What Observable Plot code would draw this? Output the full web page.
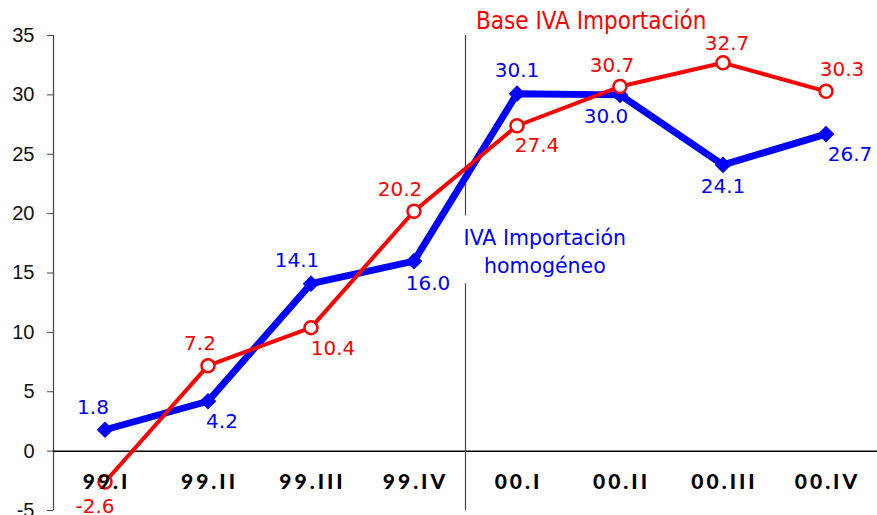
<!DOCTYPE html>
<html><head><meta charset="utf-8">
<script src="https://cdn.jsdelivr.net/npm/d3@7"></script>
<script src="https://cdn.jsdelivr.net/npm/@observablehq/plot@0.6"></script>
<style>body{margin:0;background:#fff;}</style>
</head><body><div id="chart"></div>
<script>
const categories = ["99.I","99.II","99.III","99.IV","00.I","00.II","00.III","00.IV"];
const ivaHomogeneo = [1.8, 4.2, 14.1, 16.0, 30.1, 30.0, 24.1, 26.7];
const baseIva = [-2.6, 7.2, 10.4, 20.2, 27.4, 30.7, 32.7, 30.3];
const yTicks = [-5, 0, 5, 10, 15, 20, 25, 30, 35];
const seriesNames = ["IVA Importación homogéneo", "Base IVA Importación"];

// label placement (pixel offsets from each point)
const blueLabelOffsets = [[-12,-22],[14,20],[-14,-23],[14,22],[0,-23],[-14,22],[0,22],[24,21]];
const redLabelOffsets = [[-10,25],[-8,-22],[22,21],[-14,-22],[20,20],[-8,-21],[4,-19],[16,-22]];

const BLUE = "#0000ff", RED = "#ff0000";
const numFont = "DejaVu Sans, Verdana, sans-serif";

const blue = categories.map((c, i) => ({i, c, v: ivaHomogeneo[i]}));
const red = categories.map((c, i) => ({i, c, v: baseIva[i]}));

const labelMarks = (data, offs, color) => data.map((d, k) =>
  Plot.text([d], {x: "i", y: "v", text: p => p.v.toFixed(1), dx: offs[k][0], dy: offs[k][1],
    fill: color, fontSize: 20, fontFamily: numFont}));

const chart = Plot.plot({
  width: 877, height: 515,
  marginLeft: 53, marginRight: 0, marginTop: 35, marginBottom: 5,
  style: {fontFamily: "Liberation Sans, Arial, sans-serif", fontSize: "19px", background: "#fff", color: "#000"},
  x: {type: "linear", domain: [-0.5, 7.5], axis: null},
  y: {domain: [-5, 35], axis: null},
  marks: [
    Plot.ruleX([-0.5], {stroke: "#444", strokeWidth: 1.2}),
    Plot.axisY({ticks: yTicks, tickSize: 6, tickPadding: 13, anchor: "left", tickFormat: d => String(d), stroke: "#444", fill: "#111", fontSize: 20}),
    Plot.ruleY([0], {stroke: "#000", strokeWidth: 1.5}),
    Plot.ruleX([{x: 3.5, y1: 35, y2: 19.8}, {x: 3.5, y1: 14.1, y2: -5}], {x: "x", y1: "y1", y2: "y2", stroke: "#444", strokeWidth: 1.2}),
    Plot.line(blue, {x: "i", y: "v", stroke: BLUE, strokeWidth: 7, strokeLinejoin: "miter"}),
    Plot.dot(blue, {x: "i", y: "v", symbol: "diamond2", r: 7.5, fill: BLUE, stroke: "none"}),
    Plot.line(red, {x: "i", y: "v", stroke: RED, strokeWidth: 4}),
    Plot.dot(red, {x: "i", y: "v", r: 6.5, fill: "#fff", stroke: RED, strokeWidth: 2.5}),
    Plot.text(categories, {x: (d, i) => i, y: () => 0, dy: 31, dx: 1.5, text: d => d, fontWeight: "bold", fontSize: 21, fontFamily: "Lato, sans-serif", fill: "#000"}),
    ...labelMarks(blue, blueLabelOffsets, BLUE),
    ...labelMarks(red, redLabelOffsets, RED),
    Plot.text([seriesNames[1]], {x: () => 4.72, y: () => 36.2, text: d => d, fill: RED, fontSize: 24, fontFamily: "Liberation Sans Narrow, Arial Narrow, DejaVu Sans Condensed, Liberation Sans, sans-serif"}),
    Plot.text([seriesNames[0]], {x: () => 4.27, y: () => 16.9, text: d => "IVA Importación\nhomogéneo", lineHeight: 1.35, fill: BLUE, fontSize: 20.5, fontFamily: numFont})
  ]
});
chart.querySelectorAll('g[font-weight="bold"]').forEach(g => { g.setAttribute("font-weight", "900"); g.setAttribute("letter-spacing", "3px"); });
chart.querySelectorAll('g[font-weight="900"] text').forEach(t => t.style.letterSpacing = "3px");
document.getElementById("chart").appendChild(chart);
</script>
</body></html>
